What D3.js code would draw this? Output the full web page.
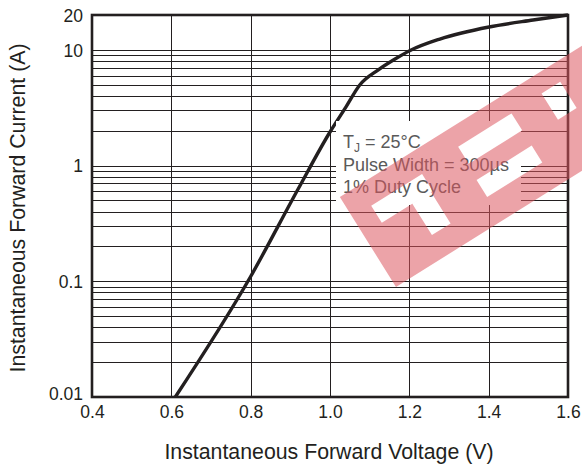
<!DOCTYPE html>
<html><head><meta charset="utf-8">
<script src="https://cdn.jsdelivr.net/npm/d3@7"></script>
<style>
html,body{margin:0;padding:0;background:#fff;}
svg{display:block;font-family:"Liberation Sans",Arial,Helvetica,sans-serif;}
</style></head>
<body>
<svg id="chart" width="582" height="467"></svg>
<script>
// ---- data ----
const voltage = [0.61, 0.8, 0.92, 1.0, 1.04, 1.075, 1.121, 1.164, 1.202, 1.277, 1.401, 1.512, 1.6];
const current = [0.01, 0.11, 0.63, 1.95, 3.2, 4.97, 6.69, 8.33, 9.87, 12.4, 15.76, 18.1, 20];
const xTicks = [0.4, 0.6, 0.8, 1.0, 1.2, 1.4, 1.6];
const xTickLabels = ["0.4", "0.6", "0.8", "1.0", "1.2", "1.4", "1.6"];
const yTicks = [0.01, 0.1, 1, 10, 20];
const yTickLabels = ["0.01", "0.1", "1", "10", "20"];
const yGrid = [0.02,0.03,0.04,0.05,0.06,0.07,0.08,0.09,0.1,0.2,0.3,0.4,0.5,0.6,0.7,0.8,0.9,1,2,3,4,5,6,7,8,9,10];
const xLabel = "Instantaneous Forward Voltage (V)";
const yLabel = "Instantaneous Forward Current (A)";
const noteLines = ["Pulse Width = 300\u00b5s", "1% Duty Cycle"];

// ---- layout ----
const L = 92, R = 568, T = 15, B = 397;
const ink = "#231f20";
const svg = d3.select("#chart");
const x = d3.scaleLinear().domain([0.4, 1.6]).range([L, R]);
const y = d3.scaleLog().domain([0.01, 20]).range([B, T]);

// grid
const g = svg.append("g");
g.selectAll("line.h").data(yGrid).join("line")
  .attr("x1", L).attr("x2", R)
  .attr("y1", d => Math.round(y(d)) + 0.5).attr("y2", d => Math.round(y(d)) + 0.5)
  .attr("stroke", ink).attr("stroke-width", 1);
g.selectAll("line.v").data(xTicks.slice(1, -1)).join("line")
  .attr("y1", T).attr("y2", B)
  .attr("x1", d => Math.round(x(d)) + 0.5).attr("x2", d => Math.round(x(d)) + 0.5)
  .attr("stroke", ink).attr("stroke-width", 1);

// curve
const pts = voltage.map((v, i) => [v, current[i]]);
svg.append("path").datum(pts)
  .attr("d", d3.line().x(d => x(d[0])).y(d => y(d[1])).curve(d3.curveMonotoneX))
  .attr("fill", "none").attr("stroke", ink).attr("stroke-width", 3.4)
  .attr("stroke-linejoin", "round");

// frame
svg.append("rect").attr("x", L).attr("y", T).attr("width", R - L).attr("height", B - T)
  .attr("fill", "none").attr("stroke", ink).attr("stroke-width", 2.6);

// axes labels
const xa = svg.append("g").attr("transform", `translate(0,${B})`)
  .call(d3.axisBottom(x).tickValues(xTicks).tickSize(0).tickFormat((d, i) => xTickLabels[i]));
xa.select(".domain").remove();
xa.selectAll("text").attr("y", 21).attr("dy", 0).attr("font-size", 17.5).attr("fill", ink)
  .attr("font-family", "Liberation Sans, Arial, sans-serif");

const ya = svg.append("g").attr("transform", `translate(${L},0)`)
  .call(d3.axisLeft(y).tickValues(yTicks).tickSize(0).tickPadding(9).tickFormat((d, i) => yTickLabels[i]));
ya.select(".domain").remove();
ya.selectAll("text").attr("font-size", 17.5).attr("fill", ink).attr("dy", "0.36em")
  .attr("font-family", "Liberation Sans, Arial, sans-serif")
  .attr("transform", d => d === 0.01 ? "translate(0,-4)" : null);

svg.append("text").attr("x", 329).attr("y", 459).attr("text-anchor", "middle")
  .attr("font-size", 21.3).attr("fill", ink).text(xLabel);
svg.append("text").attr("transform", `translate(25,208) rotate(-90)`)
  .attr("text-anchor", "middle").attr("font-size", 21.3).attr("fill", ink).text(yLabel);

// annotation box
svg.append("rect").attr("x", 336).attr("y", 121).attr("width", 185).attr("height", 84).attr("fill", "#fff");
const noteColor = "#5a5a5a";
const t1 = svg.append("text").attr("x", 343).attr("y", 148).attr("font-size", 18).attr("fill", noteColor);
t1.append("tspan").text("T");
t1.append("tspan").attr("font-size", 12).attr("dy", 4).text("J");
t1.append("tspan").attr("dy", -4).text(" = 25\u00b0C");
svg.selectAll("text.note").data(noteLines).join("text").attr("class", "note")
  .attr("x", 343).attr("y", (d, i) => 171 + i * 22)
  .attr("font-size", 18).attr("fill", noteColor).text(d => d);

// watermark
const band = 106;
const holes = [[127, 66, 63, 20], [125, 28, 65, 20], [226, 56, 22, 31], [22, 62, 60, 20], [58, 25, 22, 37]];
let pd = `M0,0H420V${-band}H0Z`;
holes.forEach(([u, v, w, h]) => { pd += `M${u},${-v}v${-h}h${w}v${h}Z`; });
svg.append("g").attr("transform", "translate(396,287) rotate(-32)")
  .append("path").attr("d", pd).attr("fill-rule", "evenodd")
  .attr("fill", "rgb(220,85,94)").attr("fill-opacity", 0.54);
</script>
</body></html>
